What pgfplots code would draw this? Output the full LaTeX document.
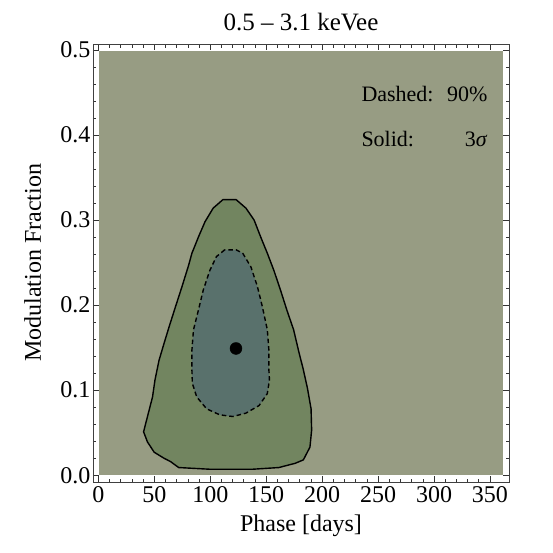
\documentclass[border=0pt]{standalone}
\usepackage{pgfplots}
\pgfplotsset{compat=1.18}
\usepackage{fontspec}
\setmainfont{Liberation Serif}
\definecolor{bgc}{RGB}{151,156,131}
\definecolor{midc}{RGB}{114,133,96}
\definecolor{innc}{RGB}{89,113,108}
\begin{document}
\begin{tikzpicture}[font=\fontsize{24}{29}\selectfont]
\useasboundingbox (-93pt,-70pt) rectangle (460pt,482pt);
\begin{axis}[
  at={(0pt,0pt)}, anchor=south west,
  scale only axis, width=416pt, height=438pt,
  xmin=-4.8, xmax=367, ymin=-0.008, ymax=0.507,
  axis on top,
  axis line style={black!75, line width=0.8pt},
  xtick={0,50,100,150,200,250,300,350},
  ytick={0,0.1,0.2,0.3,0.4,0.5},
  yticklabels={0.0,0.1,0.2,0.3,0.4,0.5},
  minor tick num=4,
  tick align=inside,
  major tick length=6pt, minor tick length=3.5pt,
  every tick/.style={black!80, line width=0.7pt},
  /pgf/number format/assume math mode=true,
  xticklabel style={yshift=-1pt},
  yticklabel style={xshift=1pt},
  title={\fontsize{25}{30}\selectfont 0.5 -- 3.1 keVee},
  title style={at={(axis description cs:0.5,1.018)}, anchor=base, inner sep=0pt},
  xlabel={Phase [days]},
  xlabel style={at={(axis description cs:0.5,-0.112)}, anchor=base, inner sep=0pt},
  ylabel={Modulation Fraction},
  ylabel style={at={(axis description cs:-0.125,0.5)}, anchor=base, rotate=0, inner sep=0pt},
]
\addplot[fill=bgc, draw=none] coordinates {(1,0) (362,0) (362,0.499) (1,0.499)} -- cycle;
\addplot[fill=midc, draw=black, line width=1.4pt, line join=round] coordinates {
(111.3,0.324) (102.6,0.314) (95.3,0.298) (89.4,0.280) (83.6,0.261) (80.7,0.247)
(74.8,0.222) (68.9,0.198) (63.1,0.174) (58.7,0.155) (54.2,0.135) (50.6,0.112)
(48.4,0.092) (43.9,0.069) (40.4,0.051) (43.9,0.039) (49.9,0.027) (58.6,0.020)
(64.5,0.016) (71.8,0.009) (99.7,0.007) (137.7,0.007) (161.3,0.009) (175.9,0.014)
(183.2,0.018) (189.1,0.033) (190.6,0.053) (190.1,0.078) (186.9,0.102) (183.2,0.124)
(178.8,0.147) (174.5,0.171) (168.5,0.194) (162.7,0.218) (156.8,0.241) (151.0,0.261)
(145.1,0.280) (139.2,0.300) (131.9,0.314) (123.1,0.324)} -- cycle;
\addplot[fill=innc, draw=black, line width=1.4pt, dash pattern=on 4.5pt off 3pt, line join=round] coordinates {
(112.9,0.265) (105.5,0.257) (99.7,0.241) (93.8,0.218) (89.4,0.194) (85.0,0.171)
(83.6,0.147) (83.6,0.124) (84.0,0.108) (87.9,0.092) (96.8,0.078) (108.5,0.071)
(120.2,0.069) (131.9,0.073) (143.7,0.082) (151.0,0.096) (152.9,0.112) (152.4,0.124)
(152.4,0.147) (151.0,0.171) (146.6,0.198) (142.1,0.222) (136.3,0.245) (129.0,0.261)
(123.1,0.265)} -- cycle;
\addplot[only marks, mark=*, mark size=6pt, black] coordinates {(123,0.149)};
\node[anchor=base west, inner sep=0pt, font=\fontsize{22}{26}\selectfont] at (axis cs:235,0.439) {Dashed:};
\node[anchor=base east, inner sep=0pt, font=\fontsize{22}{26}\selectfont] at (axis cs:348,0.439) {90\%};
\node[anchor=base west, inner sep=0pt, font=\fontsize{22}{26}\selectfont] at (axis cs:235,0.387) {Solid:};
\node[anchor=base east, inner sep=0pt, font=\fontsize{22}{26}\selectfont] at (axis cs:348,0.387) {3\textit{σ}};
\end{axis}
\end{tikzpicture}
\end{document}
